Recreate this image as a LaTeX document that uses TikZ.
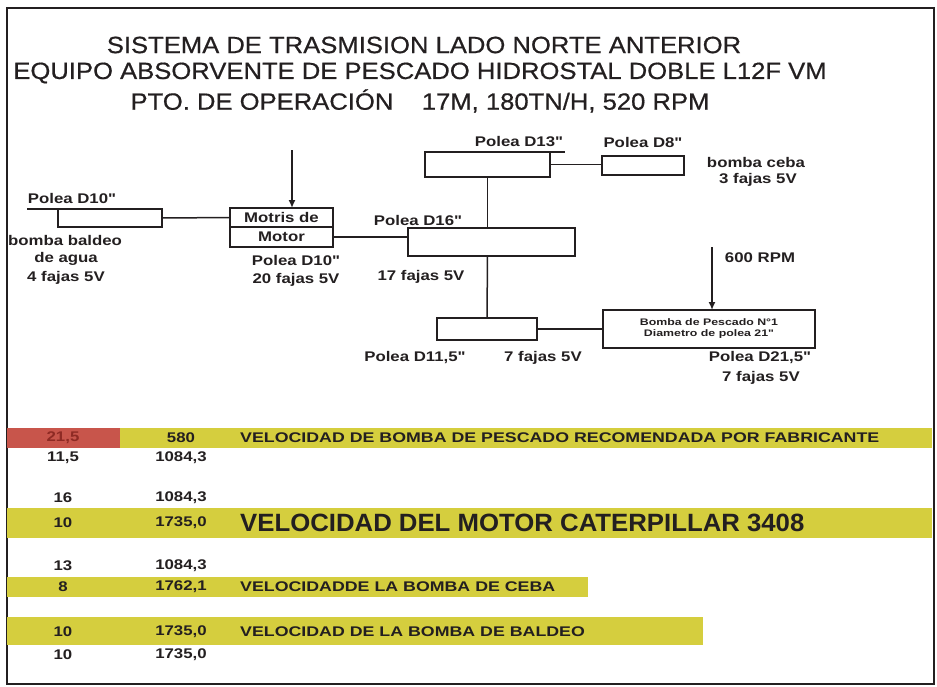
\documentclass[tikz,border=0pt]{standalone}
\usepackage{fontspec}
\setmainfont{Liberation Sans}
\newfontfamily\widefnt[FakeStretch=1.2]{Liberation Sans}
\newfontfamily\rowfnt[FakeStretch=1.27]{Liberation Sans}
\newfontfamily\bigfnt[FakeStretch=1.03]{Liberation Sans}
\newfontfamily\smallwidefnt[FakeStretch=1.3]{Liberation Sans}
\newfontfamily\titlefnt[FakeStretch=1.09,FakeBold=0.6]{Liberation Sans}
\usetikzlibrary{arrows.meta}
\definecolor{ink}{HTML}{231F20}
\definecolor{barY}{HTML}{D5CE3E}
\definecolor{barR}{HTML}{C8554B}
\definecolor{redtxt}{HTML}{8E2A24}
\tikzset{
  pbox/.style={draw=ink, line width=1.5pt, inner sep=0pt, outer sep=0pt, fill=white},
  conn/.style={draw=ink, line width=1.5pt},
  arr/.style={draw=ink, line width=1.6pt, -{Latex[length=8pt,width=7pt]}},
  lbl/.style={text=ink, inner sep=0pt, font=\widefnt\bfseries\fontsize{14}{16}\selectfont},
  ttl/.style={text=ink, inner sep=0pt, font=\titlefnt\fontsize{23.5}{26}\selectfont},
  num/.style={text=ink, inner sep=0pt, font=\widefnt\bfseries\fontsize{14}{16}\selectfont},
  rowlbl/.style={text=ink, inner sep=0pt, anchor=west, font=\rowfnt\bfseries\fontsize{14}{16}\selectfont},
}
\begin{document}
\begin{tikzpicture}[x=1pt,y=-1pt]
\useasboundingbox (0,0) rectangle (937,686);
\draw[ink, line width=2pt] (7,8) rectangle (934,684);

% titles
\node[ttl] (t1) at (424,45) {SISTEMA DE TRASMISION LADO NORTE ANTERIOR};
\node[ttl] (t2) at (420,73) {EQUIPO ABSORVENTE DE PESCADO HIDROSTAL DOBLE L12F VM};
\node[ttl] (t3) at (420,101) {PTO. DE OPERACIÓN\ \ \ \ 17M, 180TN/H, 520 RPM};

% boxes
\node[pbox, minimum width=104pt, minimum height=18pt] (d10) at (110,218) {};
\node[pbox, minimum width=103pt, minimum height=19pt, lbl] (motA) at (281.5,217.5) {Motris de};
\node[pbox, minimum width=103pt, minimum height=20pt, lbl] (motB) at (281.5,237) {Motor};
\node[pbox, minimum width=125pt, minimum height=25pt] (d13) at (487.5,164.5) {};
\node[pbox, minimum width=82pt, minimum height=19pt] (d8) at (643,165.5) {};
\node[pbox, minimum width=167pt, minimum height=28pt] (d16) at (491.5,242) {};
\node[pbox, minimum width=100pt, minimum height=22pt] (d11) at (487,329) {};
\node[pbox, minimum width=212pt, minimum height=38pt, align=center, text=ink,
      font=\smallwidefnt\bfseries\fontsize{9.5}{11}\selectfont] (bomba) at (709,329)
      {Bomba de Pescado N°1\\Diametro de polea 21"};

% extension lines over pulleys
\coordinate (d10x) at (27,209);
\coordinate (d13x) at (565,152);
\draw[conn] (d10x) -- (d10.north west);
\draw[conn] (d13.north east) -- (d13x);

% connectors
\draw[conn] (d10.east) -- (motA.west);
\draw[conn] (motB.east) -- (motB.east -| d16.west);
\draw[conn] (d13.east) -- (d13.east -| d8.west);
\draw[conn] (d13.south) -- (d13.south |- d16.north);
\draw[conn] (d13.south |- d16.south) -- (d11.north);
\draw[conn] (d11.east) -- (d11.east -| bomba.west);

% arrows
\coordinate (a1) at (292,150);
\coordinate (a2) at (712,247);
\draw[arr] (a1) -- (a1 |- motA.north);
\draw[arr] (a2) -- (a2 |- bomba.north);

% labels
\node[lbl] (l1) at (72,198) {Polea D10"};
\node[lbl] (l2) at (65,240) {bomba baldeo};
\node[lbl] (l3) at (66,259) {de agua};
\node[lbl] (l4) at (66,278) {4 fajas 5V};
\node[lbl] (l5) at (296,260) {Polea D10"};
\node[lbl] (l6) at (296,280) {20 fajas 5V};
\node[lbl] (l7) at (519,142) {Polea D13"};
\node[lbl] (l8) at (643,142) {Polea D8"};
\node[lbl] (l9) at (756,162) {bomba ceba};
\node[lbl] (l10) at (758,180) {3 fajas 5V};
\node[lbl] (l11) at (418,220) {Polea D16"};
\node[lbl] (l12) at (421,277) {17 fajas 5V};
\node[lbl] (l13) at (760,258) {600 RPM};
\node[lbl] (l14) at (415,358) {Polea D11,5"};
\node[lbl] (l15) at (543,358) {7 fajas 5V};
\node[lbl] (l16) at (760,358) {Polea D21,5"};
\node[lbl] (l17) at (761,378) {7 fajas 5V};

% table bars
\fill[barR] (7,428) rectangle (120,448);
\fill[barY] (120,428) rectangle (932,448);
\fill[barY] (7,508) rectangle (932,538);
\fill[barY] (7,577) rectangle (588,597);
\fill[barY] (7,617) rectangle (703,645);

% table rows
\node[num, text=redtxt] (r1a) at (63,438) {21,5};
\node[num] (r1b) at (181,438) {580};
\node[rowlbl] (r1c) at (240,438) {VELOCIDAD DE BOMBA DE PESCADO RECOMENDADA POR FABRICANTE};
\node[num] (r2a) at (63,458) {11,5};
\node[num] (r2b) at (181,458) {1084,3};
\node[num] (r3a) at (63,498) {16};
\node[num] (r3b) at (181,498) {1084,3};
\node[num] (r4a) at (63,523) {10};
\node[num] (r4b) at (181,523) {1735,0};
\node[rowlbl, font=\bigfnt\bfseries\fontsize{25}{27}\selectfont] (r4c) at (240,523) {VELOCIDAD DEL MOTOR CATERPILLAR 3408};
\node[num] (r5a) at (63,566) {13};
\node[num] (r5b) at (181,566) {1084,3};
\node[num] (r6a) at (63,587) {8};
\node[num] (r6b) at (181,587) {1762,1};
\node[rowlbl] (r6c) at (240,587) {VELOCIDADDE LA BOMBA DE CEBA};
\node[num] (r7a) at (63,632) {10};
\node[num] (r7b) at (181,632) {1735,0};
\node[rowlbl] (r7c) at (240,632) {VELOCIDAD DE LA BOMBA DE BALDEO};
\node[num] (r8a) at (63,655) {10};
\node[num] (r8b) at (181,655) {1735,0};
\end{tikzpicture}
\end{document}
